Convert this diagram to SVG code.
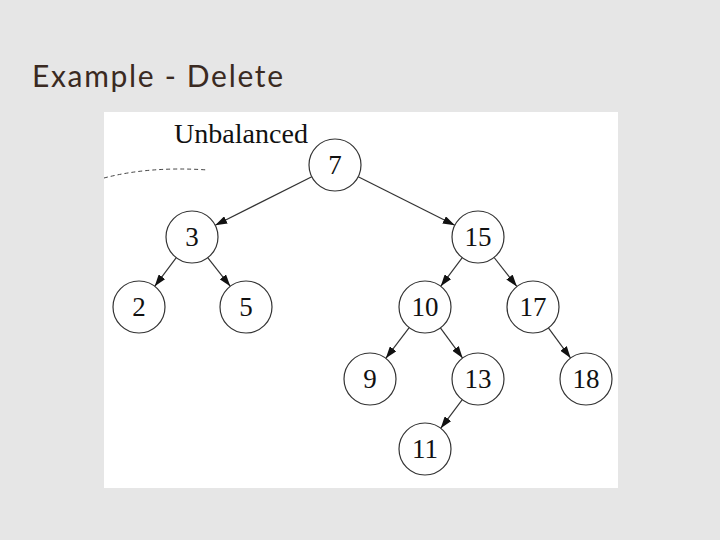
<svg xmlns="http://www.w3.org/2000/svg" width="720" height="540" viewBox="0 0 720 540">
<style>
.n circle{fill:#fff;stroke:#333;stroke-width:1.2}
.n text{font-family:"Liberation Serif",serif;font-size:27px;fill:#111;text-anchor:middle}
#edges line{stroke:#333;stroke-width:1.2;marker-end:url(#ah)}
</style>
<defs><marker id="ah" viewBox="0 0 12 8" refX="12" refY="4" markerWidth="12" markerHeight="8" markerUnits="userSpaceOnUse" orient="auto"><path d="M0,0L12,4L0,8z" fill="#111"/></marker></defs>
<rect width="720" height="540" fill="#e6e6e6"/>
<text x="32" y="87" font-family="Lato,'Open Sans',sans-serif" font-size="30" fill="#3a2a22" textLength="251" lengthAdjust="spacing">Example - Delete</text>
<rect x="104" y="112" width="514" height="376" fill="#fff"/>
<text x="174" y="143" font-family="'Liberation Serif',serif" font-size="27" fill="#111" textLength="134" lengthAdjust="spacingAndGlyphs">Unbalanced</text>
<path d="M104,178 Q150,166 208,170" fill="none" stroke="#444" stroke-dasharray="4,3"/>
<g id="edges">
<line x1="311.8" y1="176.7" x2="215.2" y2="225.3"/>
<line x1="358.2" y1="176.7" x2="454.8" y2="225.3"/>
<line x1="176.3" y1="257.7" x2="154.7" y2="286.3"/>
<line x1="207.7" y1="257.7" x2="230.3" y2="286.3"/>
<line x1="462.3" y1="257.7" x2="440.7" y2="286.3"/>
<line x1="494.1" y1="257.5" x2="516.9" y2="286.5"/>
<line x1="409.2" y1="327.7" x2="385.8" y2="358.3"/>
<line x1="440.4" y1="327.9" x2="462.6" y2="358.1"/>
<line x1="548.4" y1="327.9" x2="570.6" y2="358.1"/>
<line x1="462.3" y1="399.7" x2="440.7" y2="428.3"/>
</g>
<g id="n7" class="n"><circle cx="335" cy="165" r="26"/><text x="335" y="174">7</text></g>
<g id="n3" class="n"><circle cx="192" cy="237" r="26"/><text x="192" y="246">3</text></g>
<g id="n15" class="n"><circle cx="478" cy="237" r="26"/><text x="478" y="246">15</text></g>
<g id="n2" class="n"><circle cx="139" cy="307" r="26"/><text x="139" y="316">2</text></g>
<g id="n5" class="n"><circle cx="246" cy="307" r="26"/><text x="246" y="316">5</text></g>
<g id="n10" class="n"><circle cx="425" cy="307" r="26"/><text x="425" y="316">10</text></g>
<g id="n17" class="n"><circle cx="533" cy="307" r="26"/><text x="533" y="316">17</text></g>
<g id="n9" class="n"><circle cx="370" cy="379" r="26"/><text x="370" y="388">9</text></g>
<g id="n13" class="n"><circle cx="478" cy="379" r="26"/><text x="478" y="388">13</text></g>
<g id="n18" class="n"><circle cx="586" cy="379" r="26"/><text x="586" y="388">18</text></g>
<g id="n11" class="n"><circle cx="425" cy="449" r="26"/><text x="425" y="458">11</text></g>
</svg>
